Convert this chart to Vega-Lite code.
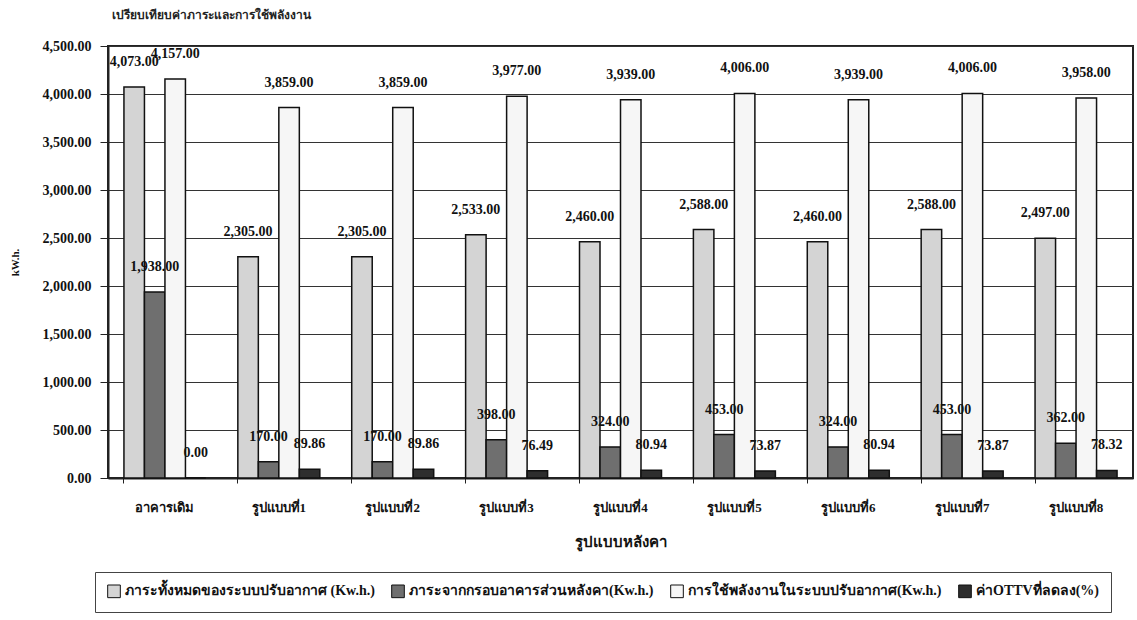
{
  "$schema": "https://vega.github.io/schema/vega-lite/v6.json",
  "width": 1025,
  "height": 432,
  "autosize": "none",
  "padding": {"left": 108, "top": 46, "right": 4, "bottom": 142},
  "background": "white",
  "title": {
    "text": "เปรียบเทียบค่าภาระและการใช้พลังงาน",
    "anchor": "start",
    "frame": "group",
    "offset": 17,
    "dx": 4,
    "font": "Liberation Serif",
    "fontSize": 12,
    "fontWeight": "bold",
    "color": "#222"
  },
  "config": {
    "font": "Liberation Serif",
    "view": {"stroke": "#222", "strokeWidth": 2},
    "axis": {"labelFont": "Liberation Serif", "titleFont": "Liberation Serif", "labelColor": "#111", "titleColor": "#111"}
  },
  "data": {
    "values": [
      {"roof": "อาคารเดิม", "series": "ภาระทั้งหมดของระบบปรับอากาศ (Kw.h.)", "value": 4073},
      {"roof": "อาคารเดิม", "series": "ภาระจากกรอบอาคารส่วนหลังคา(Kw.h.)", "value": 1938},
      {"roof": "อาคารเดิม", "series": "การใช้พลังงานในระบบปรับอากาศ(Kw.h.)", "value": 4157},
      {"roof": "อาคารเดิม", "series": "ค่าOTTVที่ลดลง(%)", "value": 0},
      {"roof": "รูปแบบที่1", "series": "ภาระทั้งหมดของระบบปรับอากาศ (Kw.h.)", "value": 2305},
      {"roof": "รูปแบบที่1", "series": "ภาระจากกรอบอาคารส่วนหลังคา(Kw.h.)", "value": 170},
      {"roof": "รูปแบบที่1", "series": "การใช้พลังงานในระบบปรับอากาศ(Kw.h.)", "value": 3859},
      {"roof": "รูปแบบที่1", "series": "ค่าOTTVที่ลดลง(%)", "value": 89.86},
      {"roof": "รูปแบบที่2", "series": "ภาระทั้งหมดของระบบปรับอากาศ (Kw.h.)", "value": 2305},
      {"roof": "รูปแบบที่2", "series": "ภาระจากกรอบอาคารส่วนหลังคา(Kw.h.)", "value": 170},
      {"roof": "รูปแบบที่2", "series": "การใช้พลังงานในระบบปรับอากาศ(Kw.h.)", "value": 3859},
      {"roof": "รูปแบบที่2", "series": "ค่าOTTVที่ลดลง(%)", "value": 89.86},
      {"roof": "รูปแบบที่3", "series": "ภาระทั้งหมดของระบบปรับอากาศ (Kw.h.)", "value": 2533},
      {"roof": "รูปแบบที่3", "series": "ภาระจากกรอบอาคารส่วนหลังคา(Kw.h.)", "value": 398},
      {"roof": "รูปแบบที่3", "series": "การใช้พลังงานในระบบปรับอากาศ(Kw.h.)", "value": 3977},
      {"roof": "รูปแบบที่3", "series": "ค่าOTTVที่ลดลง(%)", "value": 76.49},
      {"roof": "รูปแบบที่4", "series": "ภาระทั้งหมดของระบบปรับอากาศ (Kw.h.)", "value": 2460},
      {"roof": "รูปแบบที่4", "series": "ภาระจากกรอบอาคารส่วนหลังคา(Kw.h.)", "value": 324},
      {"roof": "รูปแบบที่4", "series": "การใช้พลังงานในระบบปรับอากาศ(Kw.h.)", "value": 3939},
      {"roof": "รูปแบบที่4", "series": "ค่าOTTVที่ลดลง(%)", "value": 80.94},
      {"roof": "รูปแบบที่5", "series": "ภาระทั้งหมดของระบบปรับอากาศ (Kw.h.)", "value": 2588},
      {"roof": "รูปแบบที่5", "series": "ภาระจากกรอบอาคารส่วนหลังคา(Kw.h.)", "value": 453},
      {"roof": "รูปแบบที่5", "series": "การใช้พลังงานในระบบปรับอากาศ(Kw.h.)", "value": 4006},
      {"roof": "รูปแบบที่5", "series": "ค่าOTTVที่ลดลง(%)", "value": 73.87},
      {"roof": "รูปแบบที่6", "series": "ภาระทั้งหมดของระบบปรับอากาศ (Kw.h.)", "value": 2460},
      {"roof": "รูปแบบที่6", "series": "ภาระจากกรอบอาคารส่วนหลังคา(Kw.h.)", "value": 324},
      {"roof": "รูปแบบที่6", "series": "การใช้พลังงานในระบบปรับอากาศ(Kw.h.)", "value": 3939},
      {"roof": "รูปแบบที่6", "series": "ค่าOTTVที่ลดลง(%)", "value": 80.94},
      {"roof": "รูปแบบที่7", "series": "ภาระทั้งหมดของระบบปรับอากาศ (Kw.h.)", "value": 2588},
      {"roof": "รูปแบบที่7", "series": "ภาระจากกรอบอาคารส่วนหลังคา(Kw.h.)", "value": 453},
      {"roof": "รูปแบบที่7", "series": "การใช้พลังงานในระบบปรับอากาศ(Kw.h.)", "value": 4006},
      {"roof": "รูปแบบที่7", "series": "ค่าOTTVที่ลดลง(%)", "value": 73.87},
      {"roof": "รูปแบบที่8", "series": "ภาระทั้งหมดของระบบปรับอากาศ (Kw.h.)", "value": 2497},
      {"roof": "รูปแบบที่8", "series": "ภาระจากกรอบอาคารส่วนหลังคา(Kw.h.)", "value": 362},
      {"roof": "รูปแบบที่8", "series": "การใช้พลังงานในระบบปรับอากาศ(Kw.h.)", "value": 3958},
      {"roof": "รูปแบบที่8", "series": "ค่าOTTVที่ลดลง(%)", "value": 78.32}
    ]
  },
  "encoding": {
    "x": {
      "field": "roof",
      "type": "nominal",
      "sort": null,
      "scale": {"paddingInner": 0.28, "paddingOuter": 0.14},
      "axis": {
        "title": "รูปแบบหลังคา",
        "titleFontSize": 15,
        "titleFontWeight": "bold",
        "titlePadding": 20,
        "labelAngle": 0,
        "labelFontSize": 13,
        "labelFontWeight": "bold",
        "labelPadding": 18,
        "bandPosition": 0,
        "tickSize": 5,
        "tickColor": "#222",
        "domainColor": "#222",
        "domainWidth": 2,
        "grid": false
      }
    },
    "xOffset": {
      "field": "series",
      "type": "nominal",
      "sort": ["ภาระทั้งหมดของระบบปรับอากาศ (Kw.h.)", "ภาระจากกรอบอาคารส่วนหลังคา(Kw.h.)", "การใช้พลังงานในระบบปรับอากาศ(Kw.h.)", "ค่าOTTVที่ลดลง(%)"],
      "scale": {"paddingInner": 0, "paddingOuter": 0}
    },
    "y": {
      "field": "value",
      "type": "quantitative",
      "scale": {"domain": [0, 4500]},
      "axis": {
        "title": "kW.h.",
        "titleFontSize": 11,
        "titleFontWeight": "bold",
        "titlePadding": 22,
        "format": ",.2f",
        "values": [0, 500, 1000, 1500, 2000, 2500, 3000, 3500, 4000, 4500],
        "labelFontSize": 14,
        "labelFontWeight": "bold",
        "labelPadding": 9,
        "tickSize": 8,
        "tickColor": "#222",
        "domainColor": "#222",
        "domainWidth": 2,
        "grid": true,
        "gridColor": "#333",
        "gridWidth": 1.2
      }
    }
  },
  "layer": [
    {
      "mark": {"type": "bar", "stroke": "#111", "strokeWidth": 1.5},
      "encoding": {
        "color": {
          "field": "series",
          "type": "nominal",
          "scale": {
            "domain": ["ภาระทั้งหมดของระบบปรับอากาศ (Kw.h.)", "ภาระจากกรอบอาคารส่วนหลังคา(Kw.h.)", "การใช้พลังงานในระบบปรับอากาศ(Kw.h.)", "ค่าOTTVที่ลดลง(%)"],
            "range": ["#d4d4d4", "#6f6f6f", "#f6f6f6", "#2e2e2e"]
          },
          "legend": {
            "title": null,
            "orient": "none",
            "direction": "horizontal",
            "legendX": -13,
            "legendY": 526,
            "symbolType": "square",
            "symbolSize": 160,
            "symbolStrokeColor": "#111",
            "symbolStrokeWidth": 1,
            "symbolOpacity": 1,
            "labelFont": "Liberation Serif",
            "labelFontSize": 14,
            "labelFontWeight": "bold",
            "labelColor": "#111",
            "labelLimit": 400,
            "columnPadding": 14,
            "padding": 12,
            "strokeColor": "#444",
            "fillColor": "white"
          }
        }
      }
    },
    {
      "mark": {"type": "text", "baseline": "bottom", "dy": -18, "font": "Liberation Serif", "fontSize": 14, "fontWeight": "bold", "color": "#111"},
      "encoding": {
        "text": {"field": "value", "type": "quantitative", "format": ",.2f"}
      }
    }
  ]
}
